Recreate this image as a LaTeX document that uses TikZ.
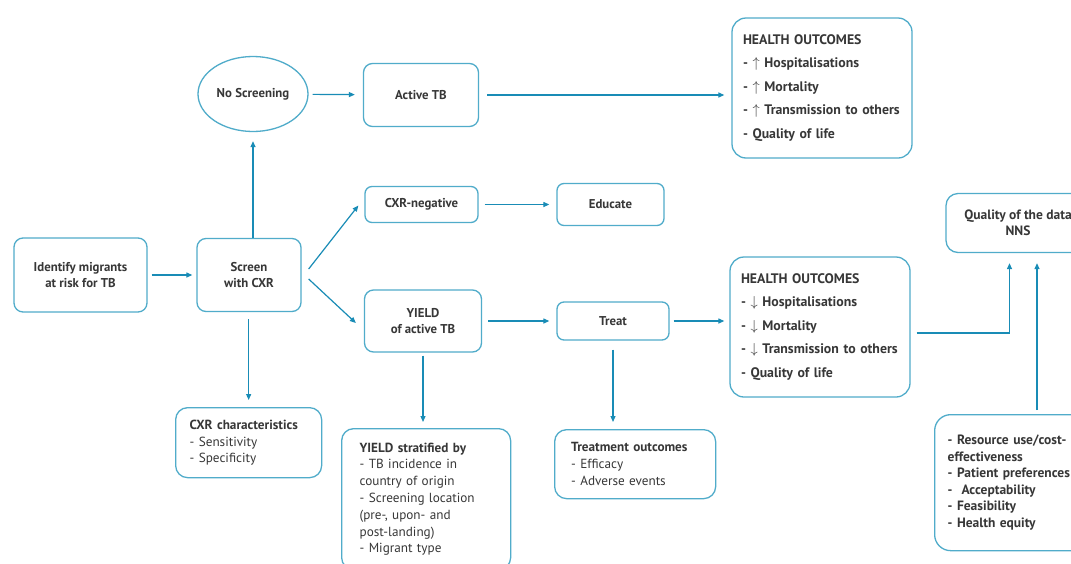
\documentclass[tikz,border=0pt]{standalone}
\usepackage{fontspec}
\setmainfont{PT Sans}
\usetikzlibrary{arrows.meta,shapes.geometric}
\definecolor{boxc}{RGB}{80,172,202}
\definecolor{arrc}{RGB}{25,140,182}
\definecolor{txtc}{RGB}{55,55,55}
\begin{document}
\begin{tikzpicture}[x=1pt,y=-1pt,
  base/.style={draw=boxc, line width=1.3pt, text=txtc, inner sep=0pt},
  box/.style={base, rounded corners=9pt, align=center,
    font=\fontsize{12.8}{15.5}\selectfont\bfseries},
  ovalbox/.style={base, ellipse, align=center,
    font=\fontsize{12.8}{15.5}\selectfont\bfseries},
  hobox/.style={base, rounded corners=14pt, align=left, inner xsep=11pt,
    text width=158pt, minimum height=140pt,
    font=\fontsize{13.8}{23.5}\selectfont\bfseries},
  listbox/.style={base, rounded corners=12pt, align=left, anchor=north west,
    font=\fontsize{13.2}{16.8}\selectfont},
  arr/.style={draw=arrc, line width=1.2pt, -{Triangle[length=6pt,width=5pt]}},
]
\clip (0,0) rectangle (1071,563);
\fill[white] (0,0) rectangle (1071,563);

% nodes
\node[ovalbox, minimum width=110pt, minimum height=75pt] (noscr) at (253,94) {No Screening};
\node[box, minimum width=115pt, minimum height=63pt] (activetb) at (421,95) {Active TB};
\node[hobox] (hotop) at (822,88) {HEALTH OUTCOMES\\- \(\uparrow\) Hospitalisations\\- \(\uparrow\) Mortality\\- \(\uparrow\) Transmission to others\\- Quality of life};
\node[box, minimum width=133pt, minimum height=74pt] (ident) at (80.5,275) {Identify migrants\\at risk for TB};
\node[box, minimum width=104pt, minimum height=73pt] (screen) at (249,275) {Screen\\with CXR};
\node[box, rounded corners=7pt, minimum width=113pt, minimum height=36pt] (cxrneg) at (421.5,204.5) {CXR-negative};
\node[box, rounded corners=7pt, minimum width=107pt, minimum height=42pt] (educate) at (610.5,204.5) {Educate};
\node[box, minimum width=117pt, minimum height=62pt] (yield) at (423,321) {YIELD\\of active TB};
\node[box, rounded corners=7pt, minimum width=112pt, minimum height=38pt] (treat) at (613,321) {Treat};
\node[hobox] (hobot) at (820,327) {HEALTH OUTCOMES\\- \(\downarrow\) Hospitalisations\\- \(\downarrow\) Mortality\\- \(\downarrow\) Transmission to others\\- Quality of life};
\node[box, rounded corners=12pt, minimum width=144pt, minimum height=59pt, font=\fontsize{13.5}{16}\selectfont\bfseries] (quality) at (1018,223) {Quality of the data\\NNS};
\node[listbox, inner xsep=14pt, text width=118pt, minimum height=70pt] (cxrchar) at (175,407) {\textbf{CXR characteristics}\\- Sensitivity\\- Specificity};
\node[listbox, inner xsep=18pt, text width=133pt, minimum height=141pt] (ystrat) at (341,428) {\textbf{YIELD stratified by}\\- TB incidence in\\country of origin\\- Screening location\\(pre-, upon- and\\post-landing)\\- Migrant type};
\node[listbox, inner xsep=16.5pt, text width=128pt, minimum height=69pt] (tout) at (554,429) {\textbf{Treatment outcomes}\\- Efficacy\\- Adverse events};
\node[listbox, rounded corners=16pt, inner xsep=13pt, text width=146pt, minimum height=136pt, font=\fontsize{13.5}{16.6}\selectfont\bfseries] (rbox) at (934,414) {- Resource use/cost-\\effectiveness\\- Patient preferences\\-~ Acceptability\\- Feasibility\\- Health equity};

% connectors
\draw[arr, shorten <=4pt, shorten >=8pt] (noscr) -- (activetb);
\draw[arr, shorten <=8pt, shorten >=7pt] (activetb) -- (activetb -| hotop.west);
\draw[arr, shorten <=4pt, shorten >=4pt] (ident) -- (screen);
\draw[arr, shorten >=9pt] (screen.north -| noscr.south) -- (noscr.south);
\draw[arr, shorten <=7pt, shorten >=7pt] (screen.south -| cxrchar.north) -- (cxrchar.north);
\draw[arr] ([shift={(7,-6)}]screen.east) -- ([shift={(-6,1)}]cxrneg.west);
\draw[arr] ([shift={(7,4)}]screen.east) -- ([shift={(-8,2)}]yield.west);
\draw[arr, shorten <=6pt, shorten >=7pt] (cxrneg) -- (educate);
\draw[arr, shorten <=6pt, shorten >=7pt] (yield) -- (treat);
\draw[arr, shorten <=4pt, shorten >=5pt] (treat.east) -- (treat.east -| hobot.west);
\draw[arr, shorten <=3pt, shorten >=6pt] (yield.south) -- (yield.south |- ystrat.north);
\draw[arr, shorten <=9pt, shorten >=7pt] (treat.south) -- (treat.south |- tout.north);
\coordinate (qa) at ([shift={(-8.5,0)}]quality.south);
\coordinate (qb) at ([shift={(19,0)}]quality.south);
\draw[arr, shorten >=10pt] ([shift={(6,6)}]hobot.east) -| (qa);
\draw[arr, shorten <=4pt, shorten >=10pt] (rbox.north -| qb) -- (qb);
\end{tikzpicture}
\end{document}
